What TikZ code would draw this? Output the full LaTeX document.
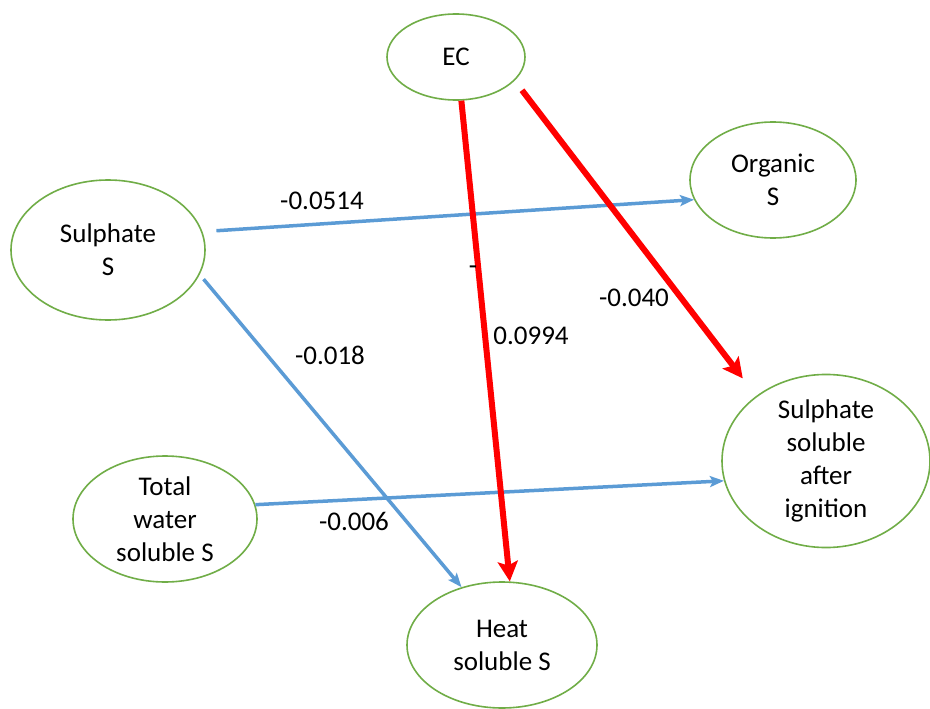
\documentclass[tikz,border=0pt]{standalone}
\usepackage{fontspec}
\setmainfont{Carlito}
\usetikzlibrary{shapes.geometric,arrows.meta}
\definecolor{nodegreen}{RGB}{112,173,71}
\definecolor{linkblue}{RGB}{91,155,213}
\definecolor{linkred}{RGB}{255,0,0}
\tikzset{
  var/.style={ellipse, draw=nodegreen, line width=1.6pt, fill=white, inner sep=0pt, align=center, font=\fontsize{27}{33}\selectfont},
  bluelink/.style={draw=linkblue, line width=3.5pt, -{Stealth[length=14pt,width=11pt,inset=3pt]}},
  redlink/.style={draw=linkred, line width=6pt, -{Stealth[length=20pt,width=20pt,inset=4pt]}},
  coef/.style={font=\fontsize{27}{33}\selectfont, inner sep=0pt}
}
\begin{document}
\begin{tikzpicture}[x=1pt,y=-1pt]
\useasboundingbox (0,0) rectangle (930,709);
\node[var, minimum width=138pt, minimum height=86pt] (ec) at (456,57) {EC};
\node[var, minimum width=194pt, minimum height=140pt] (sul) at (108,250) {Sulphate\\S};
\node[var, minimum width=166pt, minimum height=116pt] (org) at (773,180) {Organic\\S};
\node[var, minimum width=208pt, minimum height=146pt] (ssai) at (826,461) {Sulphate\\soluble\\after\\ignition};
\node[var, minimum width=184pt, minimum height=126pt] (tot) at (165,519) {Total\\water\\soluble S};
\node[var, minimum width=190pt, minimum height=126pt] (heat) at (502,645) {Heat\\soluble S};

\draw[bluelink, shorten <=14pt] (sul.11.6) -- (org.194);
\draw[bluelink, shorten <=6pt] (sul.-15) -- (heat.125);
\draw[bluelink] (tot.9) -- (ssai.191);
\draw[redlink] (ec.-83) -- (heat.83);
\draw[redlink, shorten <=12pt, shorten >=22pt] (ec.-22.4) -- (ssai.137);

\node[coef] (c1) at (322,201) {-0.0514};
\node[coef] (c2) at (330,355) {-0.018};
\node[coef] (c3) at (354,521) {-0.006};
\node[coef] (c4) at (634,298) {-0.040};
\node[coef] (c5a) at (473,270) {-};
\node[coef] (c5b) at (531,336) {0.0994};
\end{tikzpicture}
\end{document}
